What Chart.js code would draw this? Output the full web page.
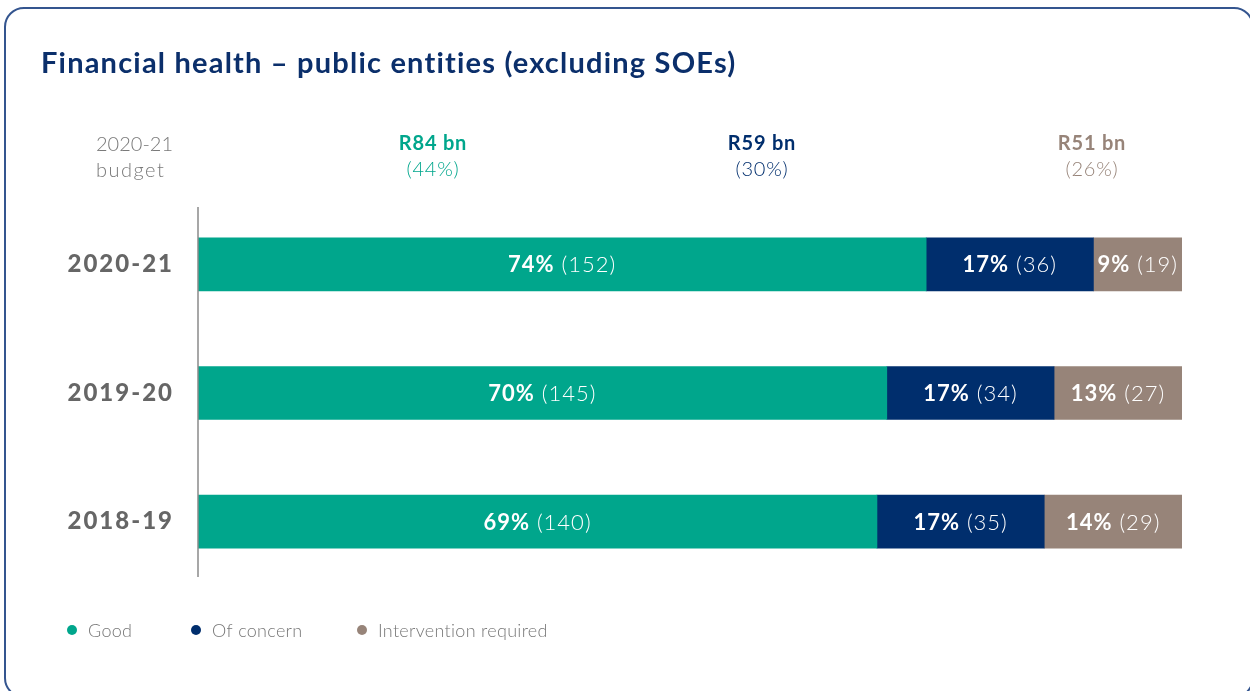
<!DOCTYPE html>
<html>
<head>
<meta charset="utf-8">
<script src="https://cdn.jsdelivr.net/npm/chart.js@4/dist/chart.umd.min.js"></script>
<style>
  html, body { margin: 0; padding: 0; background: #fff; overflow: hidden; }
  #wrap { position: relative; width: 1250px; height: 691px; overflow: hidden; }
  #frame {
    position: absolute; left: 4px; top: 7px; width: 1250px; height: 691px;
    border: 2px solid #34558f; border-radius: 20px; box-sizing: border-box;
  }
  canvas { position: absolute; left: 0; top: 0; }
</style>
</head>
<body>
<div id="wrap">
  <div id="frame"></div>
  <canvas id="chart" width="1250" height="691"></canvas>
</div>
<script>
// data
const years = ['2020-21', '2019-20', '2018-19'];
const seriesNames = ['Good', 'Of concern', 'Intervention required'];
const goodPct = [74, 70, 69];
const concernPct = [17, 17, 17];
const interventionPct = [9, 13, 14];
const goodCount = [152, 145, 140];
const concernCount = [36, 34, 35];
const interventionCount = [19, 27, 29];
const budgetBn = [84, 59, 51];
const budgetShare = [44, 30, 26];

const colors = ['#00a68c', '#002e6d', '#978479'];
const FONT = 'Lato, "Open Sans", sans-serif';

// where the budget headers sit (x centres)
const headerX = [433, 762, 1092];
const legendX = [72, 196, 362];

const overlay = {
    id: 'overlay',
    beforeDraw(chart) {
        // wider year labels, like the original typeface
        chart.ctx.letterSpacing = '2px';
    },
    beforeDatasetsDraw(chart) {
        chart.ctx.letterSpacing = '0px';
    },
    afterDatasetsDraw(chart) {
        const ctx = chart.ctx;
        const area = chart.chartArea;
        ctx.save();
        ctx.letterSpacing = '1px';

        // value labels inside segments
        const counts = [goodCount, concernCount, interventionCount];
        chart.data.datasets.forEach((ds, di) => {
            const meta = chart.getDatasetMeta(di);
            meta.data.forEach((bar, i) => {
                const cx = (bar.x + bar.base) / 2;
                const bold = ds.data[i] + '%';
                const rest = ' (' + counts[di][i] + ')';
                ctx.font = 'bold 22px ' + FONT;
                const w1 = ctx.measureText(bold).width;
                ctx.font = '300 22px ' + FONT;
                const w2 = ctx.measureText(rest).width;
                let x = cx - (w1 + w2) / 2;
                ctx.fillStyle = '#fff';
                ctx.textBaseline = 'middle';
                ctx.textAlign = 'left';
                ctx.font = 'bold 22px ' + FONT;
                ctx.fillText(bold, x, bar.y + 1);
                ctx.font = '300 22px ' + FONT;
                ctx.fillText(rest, x + w1, bar.y + 1);
            });
        });

        // axis line
        ctx.strokeStyle = '#8a8a8a';
        ctx.lineWidth = 1.5;
        ctx.beginPath();
        ctx.moveTo(area.left, area.top + 7);
        ctx.lineTo(area.left, area.bottom - 9);
        ctx.stroke();
        ctx.restore();
    },
    afterDraw(chart) {
        const ctx = chart.ctx;
        ctx.save();
        ctx.textBaseline = 'alphabetic';

        // title
        ctx.fillStyle = '#0b2f6b';
        ctx.font = 'bold 29px ' + FONT;
        ctx.letterSpacing = '1.2px';
        ctx.textAlign = 'left';
        ctx.fillText('Financial health \u2013 public entities (excluding SOEs)', 41, 73);

        // budget header
        ctx.letterSpacing = '0px';
        ctx.fillStyle = '#7a7a7a';
        ctx.font = '300 20px ' + FONT;
        ctx.fillText('2020-21', 96, 151);
        ctx.letterSpacing = '1.5px';
        ctx.fillText('budget', 96, 177);

        ctx.letterSpacing = '0.8px';
        ctx.textAlign = 'center';
        budgetBn.forEach((v, i) => {
            ctx.fillStyle = colors[i];
            ctx.font = 'bold 20px ' + FONT;
            ctx.fillText('R' + v + ' bn', headerX[i], 150);
            ctx.font = '300 20px ' + FONT;
            ctx.fillText('(' + budgetShare[i] + '%)', headerX[i], 176);
        });

        // legend
        ctx.letterSpacing = '0.3px';
        ctx.textAlign = 'left';
        ctx.textBaseline = 'middle';
        seriesNames.forEach((name, i) => {
            ctx.fillStyle = colors[i];
            ctx.beginPath();
            ctx.arc(legendX[i], 630, 5, 0, Math.PI * 2);
            ctx.fill();
            ctx.fillStyle = '#777';
            ctx.font = '300 18px ' + FONT;
            ctx.fillText(name, legendX[i] + 16, 631);
        });
        ctx.restore();
    }
};

new Chart(document.getElementById('chart'), {
    type: 'bar',
    data: {
        labels: years,
        datasets: [
            { label: seriesNames[0], data: goodPct, backgroundColor: colors[0] },
            { label: seriesNames[1], data: concernPct, backgroundColor: colors[1] },
            { label: seriesNames[2], data: interventionPct, backgroundColor: colors[2] }
        ]
    },
    options: {
        indexAxis: 'y',
        responsive: false,
        animation: false,
        barThickness: 53,
        borderSkipped: false,
        layout: { padding: { top: 200, bottom: 105, left: 20, right: 68 } },
        scales: {
            x: { stacked: true, min: 0, max: 100, display: false },
            y: {
                stacked: true,
                grid: { display: false, drawTicks: false },
                border: { display: false },
                ticks: {
                    padding: 24,
                    color: '#666',
                    font: { family: FONT, size: 24, weight: 900 }
                },
                afterFit: (scale) => { scale.width = 178; }
            }
        },
        plugins: {
            legend: { display: false },
            tooltip: { enabled: false }
        }
    },
    plugins: [overlay]
});
</script>
</body>
</html>
